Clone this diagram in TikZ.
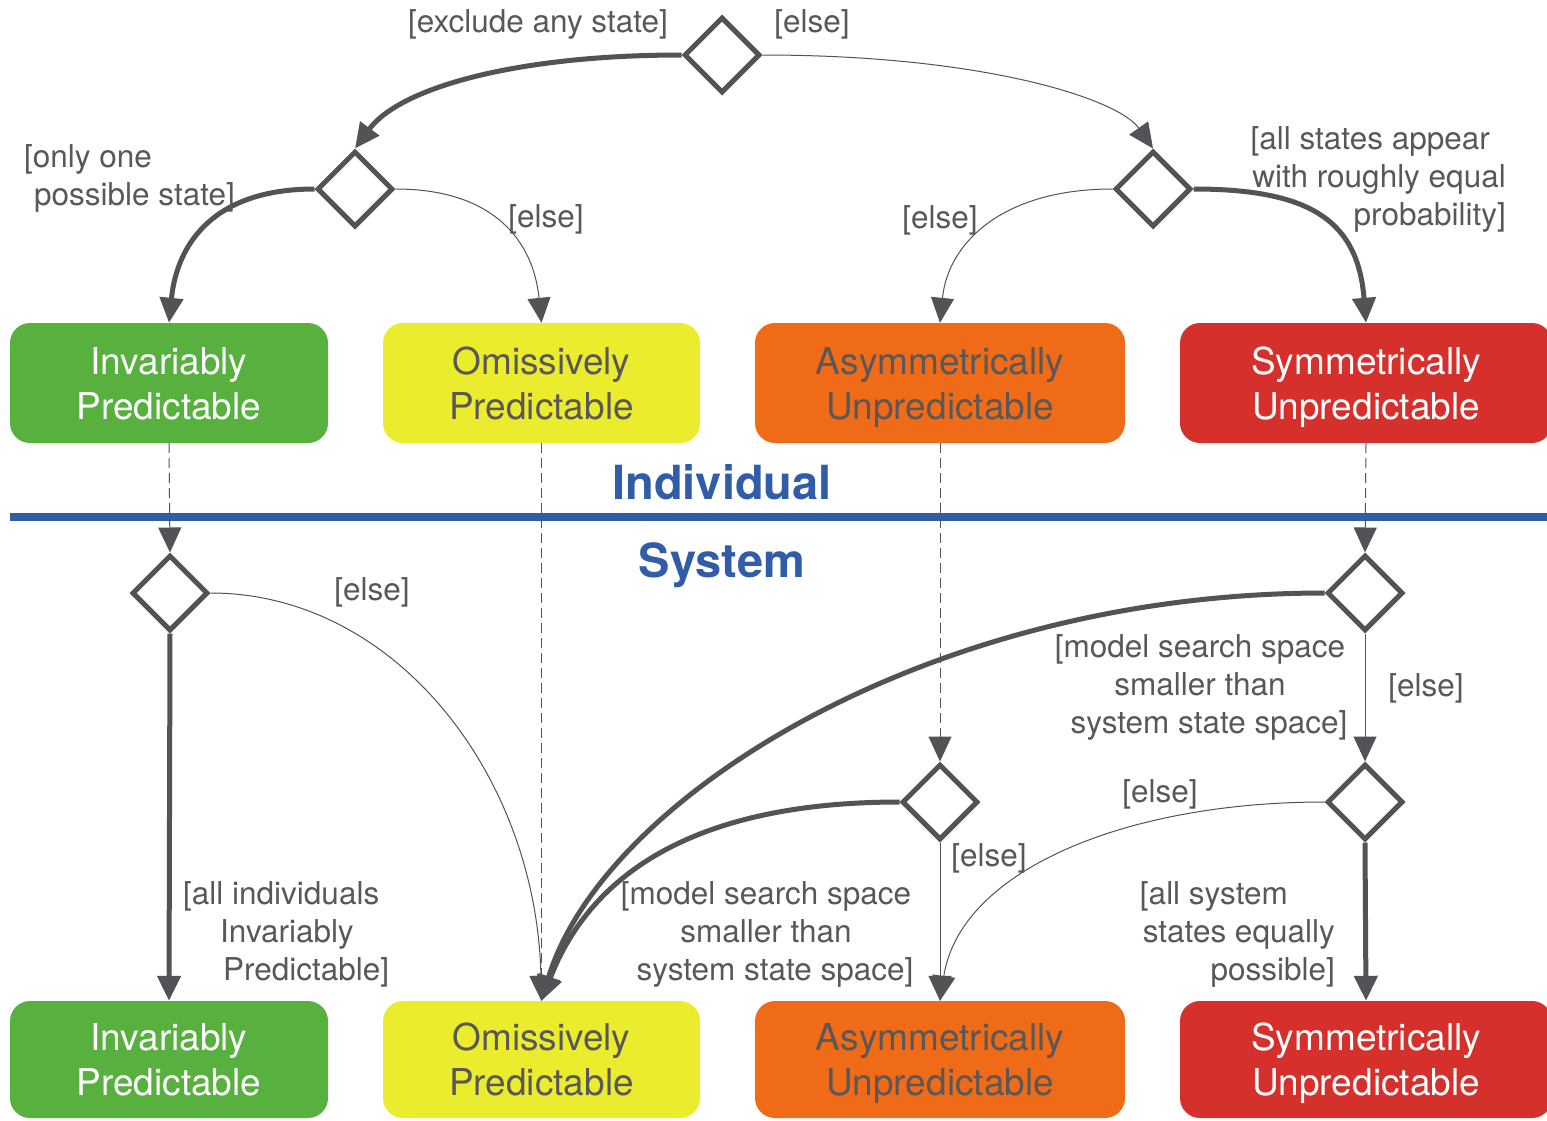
\documentclass[tikz,border=0pt]{standalone}
\usepackage{fontspec}
\setmainfont{TeX Gyre Heros}
\usetikzlibrary{shapes.geometric,arrows.meta}
\definecolor{ln}{HTML}{535357}
\definecolor{tx}{HTML}{58585A}
\definecolor{cgreen}{HTML}{58B13F}
\definecolor{cyellow}{HTML}{ECEC2F}
\definecolor{corange}{HTML}{F06B17}
\definecolor{cred}{HTML}{D5302B}
\definecolor{cblue}{HTML}{315CA8}
\newcommand\twolines[2]{\rule{0pt}{27pt}\smash{#1}\\\smash{#2}}
\tikzset{
  dia/.style={diamond,draw=ln,line width=5pt,fill=white,minimum width=76pt,minimum height=76pt,inner sep=0pt,aspect=1},
  box/.style={rounded corners=20pt,minimum height=120pt,align=center,inner sep=0pt,font=\fontsize{37}{45}\selectfont},
  lbl/.style={text=tx,inner sep=0pt,font=\fontsize{31.5}{38}\selectfont},
  tip/.style={-{Triangle[length=25pt,width=23pt]}},
  thick conn/.style={tip,draw=ln,line width=5pt},
  thin conn/.style={tip,draw=ln,line width=1pt},
  dash conn/.style={tip,draw=ln,line width=1pt,dash pattern=on 10pt off 5pt},
}
\begin{document}
\begin{tikzpicture}[x=1pt,y=1pt]
\useasboundingbox (0,0) rectangle (1547,-1120);
\clip (0,0) rectangle (1547,-1120);
% decision nodes
\node[dia] (d0) at (722,-55) {};
\node[dia] (d1) at (355,-189) {};
\node[dia] (d2) at (1153,-189) {};
\node[dia] (d3) at (170,-593) {};
\node[dia] (d4) at (1365,-593) {};
\node[dia] (d5) at (940,-802) {};
\node[dia] (d6) at (1365,-802) {};
% top boxes
\node[box,fill=cgreen,text=white,minimum width=318pt] (g1) at (169,-383) {\twolines{Invariably}{Predictable}};
\node[box,fill=cyellow,text=tx,minimum width=317pt] (y1) at (541.5,-383) {\twolines{Omissively}{Predictable}};
\node[box,fill=corange,text=tx,minimum width=370pt] (o1) at (940,-383) {\twolines{Asymmetrically}{Unpredictable}};
\node[box,fill=cred,text=white,minimum width=372pt] (r1) at (1366,-383) {\twolines{Symmetrically}{Unpredictable}};
% bottom boxes
\node[box,fill=cgreen,text=white,minimum width=318pt,minimum height=117pt] (g2) at (169,-1059.5) {\twolines{Invariably}{Predictable}};
\node[box,fill=cyellow,text=tx,minimum width=317pt,minimum height=117pt] (y2) at (541.5,-1059.5) {\twolines{Omissively}{Predictable}};
\node[box,fill=corange,text=tx,minimum width=370pt,minimum height=117pt] (o2) at (940,-1059.5) {\twolines{Asymmetrically}{Unpredictable}};
\node[box,fill=cred,text=white,minimum width=372pt,minimum height=117pt] (r2) at (1366,-1059.5) {\twolines{Symmetrically}{Unpredictable}};
% divider
\draw[cblue,line width=8pt] (10,-517) -- (1547,-517);
\node[text=cblue,inner sep=0pt,font=\fontsize{47}{56}\bfseries\selectfont] (ind) at (722,-482) {Individual};
\node[text=cblue,inner sep=0pt,font=\fontsize{47}{56}\bfseries\selectfont] (sys) at (722,-565) {System};
% top connectors
\draw[thick conn] (d0.west) .. controls +(-165,0) and +(45,61) .. (d1.north);
\draw[thin conn] (d0.east) .. controls +(220,0) and +(-35,50) .. (d2.north);
\draw[thick conn] (d1.west) .. controls +(-100,0) and +(8,80) .. (g1.north);
\draw[thin conn] (d1.east) .. controls +(100,0) and +(-8,80) .. (y1.north);
\draw[thin conn] (d2.west) .. controls +(-110,0) and +(8,80) .. (o1.north);
\draw[thick conn] (d2.east) .. controls +(120,0) and +(-8,100) .. (r1.north);
% dashed
\draw[dash conn] (g1.south) -- (d3.north);
\draw[dash conn] (y1.south) -- (y2.north);
\draw[dash conn] (o1.south) -- (d5.north);
\draw[dash conn] (r1.south) -- (d4.north);
% bottom connectors
\draw[thick conn] (d3.south) -- (g2.north);
\draw[thin conn] (d3.east) .. controls +(185,0) and +(-5,225) .. (y2.north);
\draw[thick conn] (d4.west) .. controls +(-400,0) and +(60,200) .. (y2.north);
\draw[thick conn] (d5.west) .. controls +(-200,0) and +(50,130) .. (y2.north);
\draw[thin conn] (d4.south) -- (d6.north);
\draw[thin conn] (d5.south) -- (o2.north);
\draw[thin conn] (d6.west) .. controls +(-200,0) and +(20,130) .. (o2.north);
\draw[thick conn] (d6.south) -- (r2.north);
% labels
\node[lbl] (l1) at (538,-24) {[exclude any state]};
\node[lbl] (l2) at (812,-24) {[else]};
\node[lbl,anchor=west,align=left] (l3) at (24,-178) {[only one\\\hspace*{10pt}possible state]};
\node[lbl] (l4) at (546,-219) {[else]};
\node[lbl] (l5) at (940,-220) {[else]};
\node[lbl,anchor=east,align=right] (l6) at (1506,-179) {[all states appear\hspace*{16pt}\\with roughly equal\\probability]};
\node[lbl] (l7) at (372,-592) {[else]};
\node[lbl,anchor=west,align=left] (l8) at (183,-934) {[all individuals\\\hspace*{37pt}Invariably\\\hspace*{40pt}Predictable]};
\node[lbl] (l9) at (1426,-688) {[else]};
\node[lbl,align=center] (l10) at (1200,-687) {[model search space\\smaller than\\\hspace*{18pt}system state space]};
\node[lbl] (l11) at (1160,-794) {[else]};
\node[lbl] (l12) at (989,-858) {[else]};
\node[lbl,align=center] (l13) at (766,-934) {[model search space\\smaller than\\\hspace*{18pt}system state space]};
\node[lbl,anchor=east,align=right] (l14) at (1335,-934) {[all system\hspace*{47pt}\\states equally\\possible]};
\end{tikzpicture}
\end{document}
